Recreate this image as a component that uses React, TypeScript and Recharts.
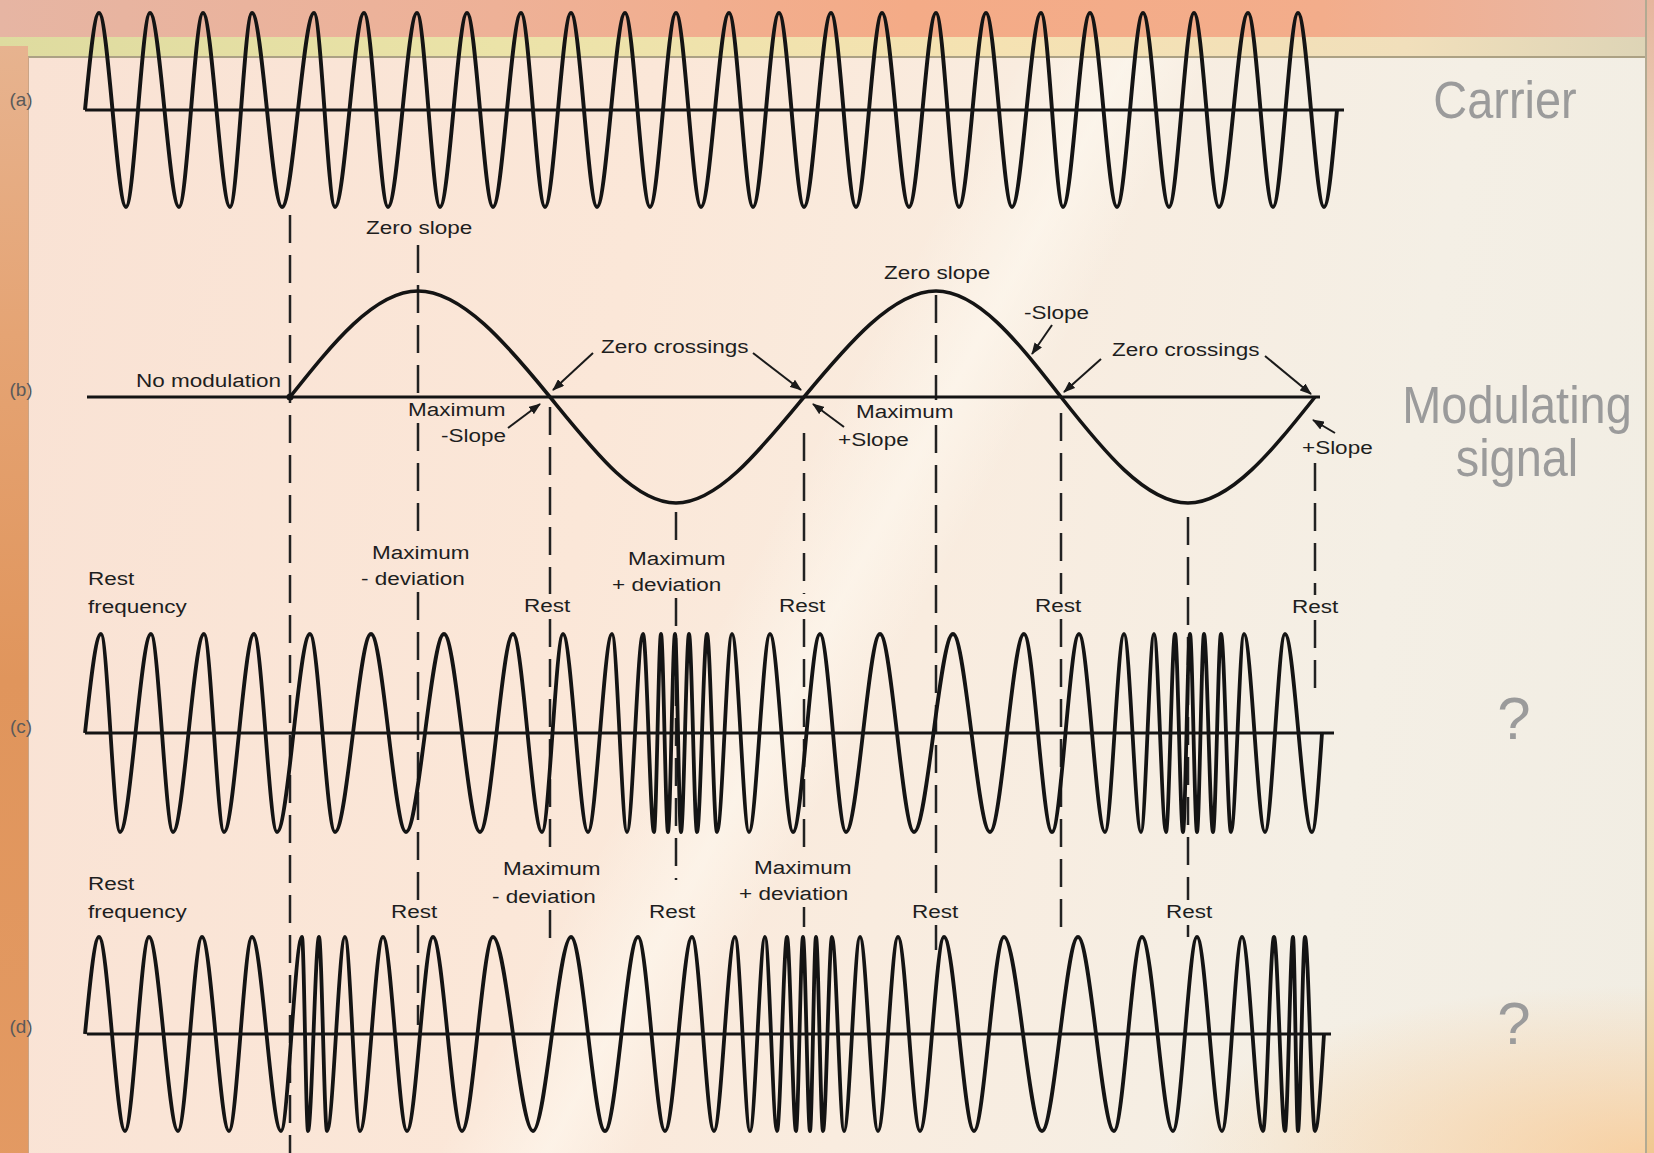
import React from 'react'
import { ComposedChart, Line, XAxis, YAxis, ReferenceLine, ReferenceDot } from 'recharts'

const W = 1654
const H = 1153

// time axis = horizontal position across the original figure
// (a) carrier: zero start, peaks, troughs, zero end
const carrierStart = 85
const carrierPeaks = [99, 150, 203, 252, 314, 364, 417, 467, 521, 571, 625, 676, 729, 779, 831, 882, 936, 986, 1041, 1090, 1143, 1194, 1248, 1298]
const carrierTroughs = [126, 179, 230, 282, 335, 388, 440, 493, 545, 597, 650, 701, 753, 804, 856, 909, 959, 1012, 1063, 1117, 1169, 1219, 1273, 1324]
const carrierEnd = 1337

// (b) modulating signal
const modTimes = [290, 418, 550, 676, 804, 936, 1061, 1188, 1315]
const modValues = [0, 1, 0, -1, 0, 1, 0, -1, 0]

// (c)
const fmStart = 85
const fmPeaks = [101, 151, 204, 254, 310, 371, 444, 513, 563, 612, 643, 661, 675, 689, 707, 732, 770, 820, 880, 953, 1024, 1079, 1124, 1154, 1175, 1190, 1204, 1221, 1244, 1285]
const fmTroughs = [120, 173, 224, 277, 335, 406, 480, 542, 588, 627, 654, 668, 681, 697, 717, 749, 793, 846, 914, 990, 1052, 1105, 1141, 1166, 1183, 1197, 1213, 1231, 1265, 1312]
const fmEnd = 1322

// (d)
const pmStart = 85
const pmPeaks = [99, 149, 202, 252, 302, 319, 345, 383, 433, 493, 571, 638, 692, 735, 765, 787, 803, 816, 832, 860, 898, 944, 1004, 1078, 1142, 1197, 1242, 1274, 1293, 1305]
const pmTroughs = [125, 178, 229, 281, 308, 327, 360, 407, 462, 533, 605, 665, 714, 750, 777, 796, 810, 823, 844, 878, 920, 974, 1042, 1114, 1173, 1222, 1263, 1285, 1298, 1315]
const pmEnd = 1324

// baseline extents for each trace
const baseA = [85, 1344]
const baseB = [87, 1320]
const baseC = [85, 1334]
const baseD = [87, 1331]

type Pt = { t: number; v: number }

function buildWave(start: number, peaks: number[], troughs: number[], end: number): Pt[] {
  const pts: Pt[] = [{ t: start, v: 0 }]
  peaks.forEach((p) => pts.push({ t: p, v: 1 }))
  troughs.forEach((p) => pts.push({ t: p, v: -1 }))
  pts.push({ t: end, v: 0 })
  return pts.sort((a, b) => a.t - b.t)
}

const carrierData = buildWave(carrierStart, carrierPeaks, carrierTroughs, carrierEnd)
const modData: Pt[] = modTimes.map((t, i) => ({ t, v: modValues[i] }))
const fmData = buildWave(fmStart, fmPeaks, fmTroughs, fmEnd)
const pmData = buildWave(pmStart, pmPeaks, pmTroughs, pmEnd)

// place each trace in its own strip: centre line and amplitude in px
const band = (center: number, amp: number): [number, number] => [-(H - center) / amp, center / amp]

// vertical extent of the dashed guides (one per modulating-signal point)
const guideSpans = [
  [215, 1153], [245, 1025], [407, 947], [512, 880], [433, 927],
  [295, 950], [413, 938], [517, 937], [463, 695],
]

const labels = [
  { t: 'Zero slope', x: 366, y: 234 },
  { t: 'No modulation', x: 136, y: 387 },
  { t: 'Zero crossings', x: 601, y: 353 },
  { t: 'Maximum', x: 408, y: 416 },
  { t: '-Slope', x: 441, y: 442 },
  { t: 'Zero slope', x: 884, y: 279 },
  { t: '-Slope', x: 1024, y: 319 },
  { t: 'Zero crossings', x: 1112, y: 356 },
  { t: 'Maximum', x: 856, y: 418 },
  { t: '+Slope', x: 838, y: 446 },
  { t: '+Slope', x: 1302, y: 454 },
  { t: 'Maximum', x: 372, y: 559 },
  { t: '- deviation', x: 361, y: 585 },
  { t: 'Maximum', x: 628, y: 565 },
  { t: '+ deviation', x: 612, y: 591 },
  { t: 'Rest', x: 88, y: 585 },
  { t: 'frequency', x: 88, y: 613 },
  { t: 'Rest', x: 524, y: 612 },
  { t: 'Rest', x: 779, y: 612 },
  { t: 'Rest', x: 1035, y: 612 },
  { t: 'Rest', x: 1292, y: 613 },
  { t: 'Rest', x: 88, y: 890 },
  { t: 'frequency', x: 88, y: 918 },
  { t: 'Rest', x: 391, y: 918 },
  { t: 'Maximum', x: 503, y: 875 },
  { t: '- deviation', x: 492, y: 903 },
  { t: 'Rest', x: 649, y: 918 },
  { t: 'Maximum', x: 754, y: 874 },
  { t: '+ deviation', x: 739, y: 900 },
  { t: 'Rest', x: 912, y: 918 },
  { t: 'Rest', x: 1166, y: 918 },
]

const arrows = [
  [593, 353, 553, 390],
  [753, 353, 801, 390],
  [508, 428, 540, 404],
  [844, 427, 813, 404],
  [1052, 325, 1032, 354],
  [1101, 359, 1064, 392],
  [1265, 356, 1311, 394],
  [1335, 433, 1313, 420],
]

const FONT = '"Liberation Sans", Arial, Helvetica, sans-serif'
const INK = '#141414'
const LABEL_SIZE = 18
const LABEL_STRETCH = 1.25

// rough Arial advance widths, used to keep guides clear of the labels
const ADV: Record<string, number> = {
  M: 0.833, m: 0.833, a: 0.556, x: 0.5, i: 0.222, u: 0.556, R: 0.722, e: 0.556, s: 0.5, t: 0.278,
  f: 0.278, r: 0.333, q: 0.556, n: 0.556, c: 0.5, y: 0.5, Z: 0.611, o: 0.556, l: 0.222, p: 0.556,
  g: 0.556, S: 0.667, d: 0.556, v: 0.5, N: 0.722, '-': 0.333, '+': 0.584, ' ': 0.278,
}
const labelWidth = (s: string) =>
  s.split('').reduce((w, ch) => w + (ADV[ch] ?? 0.556), 0) * LABEL_SIZE * LABEL_STRETCH

function guidePieces(x: number, span: number[]): number[][] {
  const cuts = labels
    .filter((l) => x >= l.x - 4 && x <= l.x + labelWidth(l.t) + 4)
    .map((l) => [l.y - 18, l.y + 7])
    .sort((a, b) => a[0] - b[0])
  const out: number[][] = []
  let y = span[0]
  cuts.forEach(([c0, c1]) => {
    if (c1 <= y || c0 >= span[1]) return
    if (c0 > y + 3) out.push([y, c0])
    y = Math.max(y, c1)
  })
  if (span[1] > y + 3) out.push([y, span[1]])
  return out
}

export default function App() {
  return (
    <div style={{ position: 'absolute', left: 0, top: 0, width: W, height: H, overflow: 'hidden', background: '#f8ebdd', fontFamily: FONT }}>
      <style>{'body{margin:0;overflow:hidden}'}</style>

      {/* slide background */}
      <div style={{ position: 'absolute', left: 0, top: 0, width: W, height: 46, background: 'linear-gradient(90deg,#e6b5a3 0%,#eeb197 30%,#f4ab87 55%,#f3ad8b 80%,#e8b7a6 100%)' }} />
      <div style={{ position: 'absolute', left: 0, top: 37, width: W, height: 19, background: 'linear-gradient(90deg,#dedb9f 0%,#ebe3a8 30%,#f5e2b2 60%,#f1dfbb 85%,#ddd4b6 100%)' }} />
      <div style={{ position: 'absolute', left: 0, top: 46, width: 28, height: H, background: 'linear-gradient(180deg,#e7b38f 0%,#e5a474 25%,#e0955c 55%,#e39a63 100%)' }} />
      <div
        style={{
          position: 'absolute', left: 28, top: 56, width: 1617, height: H - 56,
          borderLeft: '1px solid #c9a486', borderTop: '2px solid #aca184',
          background: [
            'radial-gradient(ellipse 480px 170px at 100% 100%, rgba(250,196,135,0.7), rgba(250,196,135,0) 100%)',
            'linear-gradient(118deg, rgba(255,255,255,0) 45%, rgba(255,252,244,0.5) 50%, rgba(255,255,255,0) 54%)',
            'linear-gradient(100deg,#f9e2d4 0%,#fbe7d8 35%,#f9ecdf 55%,#f4efe5 80%,#f1ede3 100%)',
          ].join(','),
        }}
      />
      <div style={{ position: 'absolute', left: 1645, top: 0, width: 9, height: H, borderLeft: '2px solid #b2aa92', background: 'linear-gradient(180deg,#e6b59d,#ece0c8 20%,#efe2c2 80%,#f0c890)' }} />

      <div style={{ position: 'absolute', left: 0, top: 0 }}>
        <ComposedChart width={W} height={H} margin={{ top: 0, right: 0, bottom: 0, left: 0 }}>
          <XAxis dataKey="t" type="number" domain={[0, W]} allowDataOverflow hide />
          <YAxis yAxisId="a" type="number" domain={band(110, 97)} allowDataOverflow hide />
          <YAxis yAxisId="b" type="number" domain={band(397, 106)} allowDataOverflow hide />
          <YAxis yAxisId="c" type="number" domain={band(733, 99)} allowDataOverflow hide />
          <YAxis yAxisId="d" type="number" domain={band(1034, 97)} allowDataOverflow hide />
          <YAxis yAxisId="page" type="number" domain={[0, H]} reversed allowDataOverflow hide />

          {modTimes.map((t, i) =>
            guidePieces(t, guideSpans[i]).map((p, j) => (
              <ReferenceLine
                key={`g-${i}-${j}`}
                yAxisId="page"
                segment={[{ x: t, y: p[0] }, { x: t, y: p[1] }]}
                stroke="#222"
                strokeWidth={2.5}
                strokeDasharray="28 12"
              />
            ))
          )}

          <ReferenceLine yAxisId="a" segment={[{ x: baseA[0], y: 0 }, { x: baseA[1], y: 0 }]} stroke={INK} strokeWidth={3} />
          <ReferenceLine yAxisId="b" segment={[{ x: baseB[0], y: 0 }, { x: baseB[1], y: 0 }]} stroke={INK} strokeWidth={3} />
          <ReferenceLine yAxisId="c" segment={[{ x: baseC[0], y: 0 }, { x: baseC[1], y: 0 }]} stroke={INK} strokeWidth={3} />
          <ReferenceLine yAxisId="d" segment={[{ x: baseD[0], y: 0 }, { x: baseD[1], y: 0 }]} stroke={INK} strokeWidth={3} />

          <Line yAxisId="a" data={carrierData} dataKey="v" type="monotone" stroke={INK} strokeWidth={3.9} dot={false} activeDot={false} isAnimationActive={false} />
          <Line yAxisId="b" data={modData} dataKey="v" type="natural" stroke={INK} strokeWidth={3.6} dot={false} activeDot={false} isAnimationActive={false} />
          <Line yAxisId="c" data={fmData} dataKey="v" type="monotone" stroke={INK} strokeWidth={3.8} dot={false} activeDot={false} isAnimationActive={false} />
          <Line yAxisId="d" data={pmData} dataKey="v" type="monotone" stroke={INK} strokeWidth={3.8} dot={false} activeDot={false} isAnimationActive={false} />

          <ReferenceDot yAxisId="b" x={modTimes[0]} y={modValues[0]} r={3.5} fill={INK} stroke="none" />
        </ComposedChart>
      </div>

      <svg width={W} height={H} style={{ position: 'absolute', left: 0, top: 0, pointerEvents: 'none' }}>
        <defs>
          <marker id="ah" markerWidth="12" markerHeight="9" refX="11" refY="4.5" orient="auto" markerUnits="userSpaceOnUse">
            <path d="M0,0 L12,4.5 L0,9 z" fill="#1a1a1a" />
          </marker>
        </defs>
        {arrows.map((a, i) => (
          <line key={`ar-${i}`} x1={a[0]} y1={a[1]} x2={a[2]} y2={a[3]} stroke="#1a1a1a" strokeWidth={2} markerEnd="url(#ah)" />
        ))}
        {labels.map((l, i) => (
          <text key={`l-${i}`} transform={`translate(${l.x} ${l.y}) scale(${LABEL_STRETCH} 1)`} fontSize={LABEL_SIZE} fill="#1e1e1e" fontFamily={FONT}>
            {l.t}
          </text>
        ))}
        {['(a)', '(b)', '(c)', '(d)'].map((t, i) => (
          <text key={t} x={21} y={[106, 396, 733, 1033][i]} textAnchor="middle" fontSize={19} fill="#5a5a5a" fontFamily={FONT}>
            {t}
          </text>
        ))}
        <g fill="#9b9b9b" fontFamily={FONT} textAnchor="middle">
          <text transform="translate(1505 118) scale(0.92 1)" fontSize={51}>Carrier</text>
          <text transform="translate(1517 423) scale(0.92 1)" fontSize={51}>Modulating</text>
          <text transform="translate(1517 476) scale(0.92 1)" fontSize={51}>signal</text>
          <text x={1514} y={739} fontSize={60}>?</text>
          <text x={1514} y={1044} fontSize={60}>?</text>
        </g>
      </svg>
    </div>
  )
}
